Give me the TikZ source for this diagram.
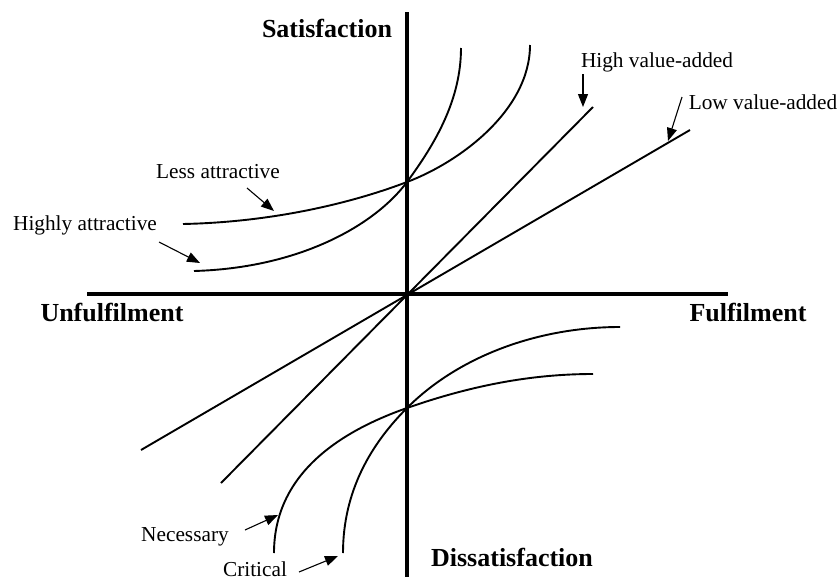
\documentclass[tikz,border=0pt]{standalone}
\usepackage{fontspec}
\setmainfont{Liberation Serif}
\usetikzlibrary{arrows.meta}
\begin{document}
\begin{tikzpicture}[x=1pt,y=-1pt,
  axis/.style={line width=3.4pt},
  curve/.style={line width=1.9pt},
  lbl/.style={font=\fontsize{21.3}{24}\selectfont, inner sep=0pt},
  ttl/.style={font=\fontsize{26}{30}\selectfont\bfseries, inner sep=0pt},
  pointer/.style={line width=1.1pt, -{Triangle[length=13pt,width=10pt]}}]
\useasboundingbox (0,0) rectangle (839,581);
% axes
\coordinate (O) at (407,294);
\coordinate (vtop) at (407,12);
\coordinate (vbot) at (407,577);
\coordinate (hleft) at (87,294);
\coordinate (hright) at (728,294);
\draw[axis] (vtop) -- (vbot);
\draw[axis] (hleft) -- (hright);
% axis titles
\node[ttl] (sat) at (327,28) {Satisfaction};
\node[ttl] (unf) at (112,313) {Unfulfilment};
\node[ttl] (ful) at (748,313) {Fulfilment};
\node[ttl] (dis) at (512,557) {Dissatisfaction};
% intersection points
\coordinate (P) at (407,182);
\coordinate (Q) at (407,408);
% upper curves
\coordinate (ha0) at (194,271);
\coordinate (ha1) at (461,48);
\coordinate (la0) at (183,224);
\coordinate (la1) at (530,45);
\draw[curve] (ha0) .. controls (300,268) and (375,225) .. (P)
             .. controls (435,144) and (461,100) .. (ha1);
\draw[curve] (la0) .. controls (280,222) and (360,200) .. (P)
             .. controls (460,162) and (530,110) .. (la1);
% lower curves
\coordinate (cr0) at (343,553);
\coordinate (cr1) at (620,327);
\coordinate (ne0) at (274,553);
\coordinate (ne1) at (593,374);
\draw[curve] (cr0) .. controls (343,490) and (372,443) .. (Q)
             .. controls (460,355) and (540,327) .. (cr1);
\draw[curve] (ne0) .. controls (274,480) and (330,435) .. (Q)
             .. controls (470,386) and (530,374) .. (ne1);
% straight lines
\coordinate (hv0) at (221,483);
\coordinate (hv1) at (593,107);
\coordinate (lv0) at (141,450);
\coordinate (lv1) at (690,130);
\draw[curve] (hv0) -- (hv1);
\draw[curve] (lv0) -- (lv1);
% labels
\node[lbl] (lessl) at (218,172) {Less attractive};
\node[lbl] (highl) at (85,225) {Highly attractive};
\node[lbl] (hval) at (657,62) {High value-added};
\node[lbl] (lval) at (763,102) {Low value-added};
\node[lbl] (necl) at (185,537) {Necessary};
\node[lbl] (crl) at (255,569) {Critical};
% pointers
\coordinate (lessA) at (247,188); \coordinate (lessB) at (274,211);
\coordinate (highA) at (159,242); \coordinate (highB) at (200,263);
\coordinate (hvA) at (583,74);   \coordinate (hvB) at (583,107);
\coordinate (lvA) at (682,97);   \coordinate (lvB) at (668,141);
\coordinate (neA) at (245,530);  \coordinate (neB) at (278,515);
\coordinate (crA) at (299,572);  \coordinate (crB) at (338,556);
\draw[pointer] (lessA) -- (lessB);
\draw[pointer] (highA) -- (highB);
\draw[pointer] (hvA) -- (hvB);
\draw[pointer] (lvA) -- (lvB);
\draw[pointer] (neA) -- (neB);
\draw[pointer] (crA) -- (crB);
\end{tikzpicture}
\end{document}
